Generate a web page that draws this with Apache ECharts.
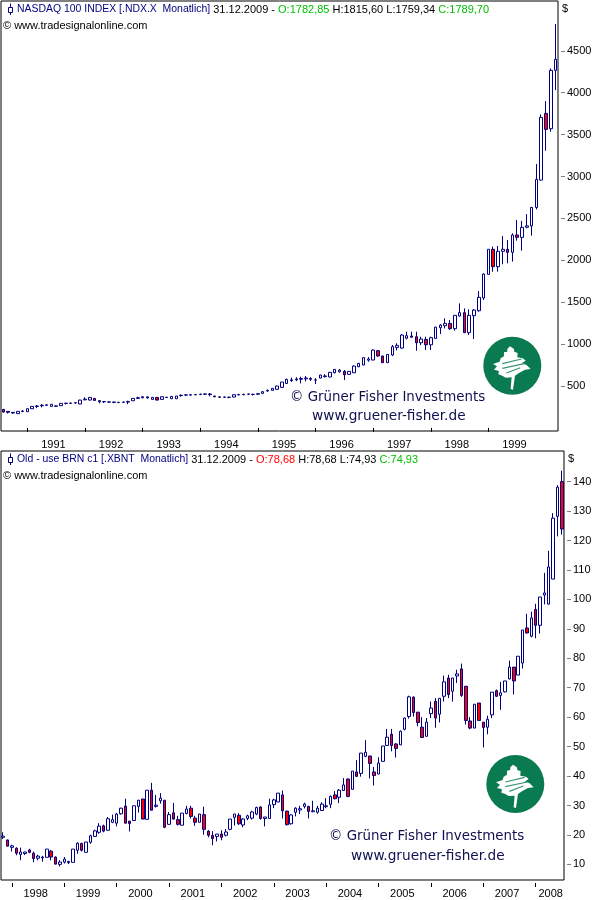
<!DOCTYPE html>
<html>

<head>
    <meta charset="utf-8">
    <title>Nasdaq 100 / Brent</title>
    <script src="https://cdn.jsdelivr.net/npm/echarts@6/dist/echarts.min.js"></script>
    <style>
        html, body { margin: 0; padding: 0; background: #fff; }
        #main { width: 600px; height: 900px; }
    </style>
</head>

<body>
    <div id='main'></div>
    <script>
        // O H L C, monatlich ab 1990-08
        var NDX = [
            [221,225,185,189],[197,198,172,186],[185,187,168,178],[170,198,168,197],[195,213,192,201],[193,230,192,229],
            [229,258,228,257],[256,273,237,261],[264,285,245,270],[270,280,262,275],[257,282,256,281],[262,270,256,258],
            [265,294,264,293],[295,298,280,292],[293,301,284,296],[297,303,290,301],[285,335,283,332],[335,365,330,344],
            [332,368,330,364],[352,355,325,328],[325,330,293,312],[312,318,298,314],[310,315,298,308],[308,312,295,305],
            [305,310,295,304],[305,312,298,308],[308,325,283,314],[324,354,322,352],[352,372,345,360],[360,378,352,372],
            [370,375,350,358],[340,366,338,364],[364,370,330,332],[340,374,338,372],[366,370,358,362],[348,378,346,376],
            [348,381,346,380],[385,398,372,390],[392,400,382,394],[392,400,386,396],[396,404,388,398],[398,408,392,403],
            [402,410,394,405],[405,416,376,398],[380,384,366,372],[370,376,358,366],[366,372,358,368],[366,370,354,364],
            [368,397,366,396],[394,406,388,398],[396,408,390,400],[402,410,392,404],[400,408,386,400],[402,412,396,408],
            [412,434,410,432],[440,458,432,448],[448,474,446,472],[460,502,458,500],[483,548,482,547],[530,587,523,579],
            [565,600,548,574],[574,605,558,584],[580,611,531,590],[585,620,555,595],[590,605,560,580],[570,595,523,572],
            [595,633,593,631],[612,640,600,620],[607,665,605,663],[658,700,650,698],[670,702,660,690],[675,690,571,635],
            [639,678,637,675],[658,745,655,738],[730,775,725,770],[750,840,748,838],[808,845,790,822],[810,937,808,929],
            [921,930,850,858],[858,860,775,778],[778,881,776,877],[870,989,858,969],[960,1010,925,985],[953,1120,945,1108],
            [1070,1148,1056,1100],[1096,1148,1080,1082],[1088,1148,921,1016],[1016,1088,988,1060],[1056,1088,929,992],[992,1088,929,1076],
            [1068,1207,1068,1203],[1195,1239,1120,1227],[1219,1307,1187,1247],[1247,1287,1168,1184],[1184,1347,1160,1343],[1335,1486,1327,1375],
            [1375,1426,1136,1136],[1136,1414,1108,1343],[1339,1418,1060,1406],[1398,1633,1386,1558],[1550,1844,1526,1836],[1832,2131,1832,2131],
            [2131,2163,1864,1924],[1924,2171,1864,2107],[2107,2290,1952,2131],[2131,2242,1964,2095],[2095,2322,1984,2302],[2302,2481,2234,2274],
            [2274,2470,2115,2393],[2395,2551,2382,2410],[2410,2638,2294,2630],[2630,3148,2607,2965],[2957,3741,2953,3705],[3753,3900,3307,3562],
            [3570,4290,3534,4266],[4266,4819,4031,4398]
        ]
        // O H L C, monatlich ab 1997-11
        var BRENT = [
            [19.2,20.9,18.6,19.6],[18.3,18.4,16.1,16.2],[15.8,16.7,14.4,16.3],[15.5,15.8,13.1,13.8],[13.4,15.7,11.4,14.2],[13.7,14.3,13.2,14.2],
            [14.9,15.3,13.8,14.1],[13.8,14.3,10.7,12.0],[12.1,13.3,11.4,12.8],[12.2,12.9,10.9,12.5],[12.4,15.2,12.3,15.2],[14.5,14.9,11.4,12.5],
            [12.5,12.7,10.0,10.1],[10.0,11.4,9.3,10.8],[10.8,12.5,10.3,11.8],[10.6,11.2,10.1,11.0],[10.7,15.2,10.7,15.2],[14.8,17.5,13.6,17.2],
            [17.1,17.4,14.4,14.8],[14.1,17.6,14.1,17.6],[17.5,20.1,17.0,19.7],[19.5,21.8,19.4,21.4],[20.9,24.0,20.4,23.0],[23.1,23.5,20.9,21.3],
            [21.6,26.1,21.5,25.5],[24.3,26.9,24.0,25.2],[24.0,27.5,22.9,27.1],[27.2,29.2,26.9,29.1],[29.8,32.3,24.0,24.0],[24.7,24.7,21.2,23.9],
            [24.9,30.0,24.8,29.9],[29.7,31.9,27.6,31.8],[32.2,32.2,25.4,25.4],[25.3,35.2,25.3,35.2],[35.2,37.7,28.4,28.4],[29.7,33.6,29.3,30.1],
            [31.6,34.2,30.6,32.5],[31.8,31.8,22.3,22.6],[23.6,27.8,23.5,26.9],[27.5,30.9,25.2,25.4],[25.2,26.5,23.2,23.6],[23.3,27.4,23.3,27.4],
            [27.3,29.9,27.0,28.8],[29.1,29.9,25.6,26.3],[25.7,26.5,23.1,24.3],[24.3,27.1,24.3,27.1],[26.9,29.6,20.1,21.9],[21.3,21.6,19.2,19.9],
            [19.8,21.3,16.5,18.8],[19.5,20.3,17.8,20.3],[20.3,21.6,18.2,19.2],[19.9,22.0,19.5,21.0],[21.9,25.4,21.6,25.4],[26.0,27.1,23.2,27.1],
            [26.7,27.4,23.4,23.8],[23.4,25.7,22.6,25.4],[25.6,26.9,25.0,26.5],[25.7,28.2,25.2,27.8],[27.1,29.6,26.7,29.3],[29.5,29.7,25.2,25.6],
            [25.6,26.1,22.9,26.1],[25.6,32.3,25.6,30.2],[30.3,32.3,29.1,31.9],[31.2,34.2,31.2,34.2],[33.6,35.1,25.6,28.2],[28.1,28.2,23.2,23.5],
            [23.8,27.0,23.5,26.8],[27.7,29.4,26.3,29.1],[28.5,29.9,27.1,28.9],[29.7,31.0,29.0,30.5],[29.7,29.9,25.6,28.0],[27.9,31.6,27.7,28.2],
            [27.7,29.9,27.2,29.1],[28.3,31.1,28.2,30.5],[29.6,32.5,29.1,29.9],[30.4,33.4,29.1,33.1],[33.6,34.9,32.1,32.3],[32.8,35.6,30.8,35.2],
            [35.1,39.3,35.0,37.0],[39.0,39.2,32.8,33.1],[35.5,41.7,35.5,41.7],[41.4,45.4,39.7,39.9],[40.9,47.8,39.8,47.8],[46.7,52.2,46.4,48.1],
            [46.8,46.9,39.2,44.3],[41.4,43.1,36.8,40.2],[40.7,46.4,40.6,44.4],[45.0,50.2,44.8,50.2],[50.4,56.0,50.3,53.2],[54.2,56.0,48.4,50.4],
            [50.9,51.2,46.3,49.4],[50.6,55.5,50.5,55.2],[55.9,59.9,55.5,59.7],[60.2,67.3,59.5,66.9],[66.8,67.1,60.2,61.6],[61.7,61.7,56.9,58.2],
            [56.6,60.0,52.9,53.1],[53.5,59.7,53.5,58.3],[61.2,65.3,59.7,63.1],[65.4,66.5,56.4,59.7],[61.0,66.4,58.2,66.4],[67.1,74.1,65.3,72.0],
            [73.3,74.4,66.5,67.7],[68.8,73.3,65.3,73.3],[74.0,76.1,71.6,74.7],[76.4,78.2,66.9,67.4],[70.5,70.5,57.5,58.9],[58.7,60.0,55.9,56.3],
            [56.3,64.4,56.3,64.4],[64.8,64.8,58.9,58.9],[58.3,58.3,49.7,56.5],[56.6,60.5,54.2,59.3],[60.8,68.5,59.7,68.5],[69.0,69.4,66.9,67.1],
            [67.4,72.0,62.5,68.3],[68.6,72.3,68.4,72.3],[73.0,79.2,72.8,77.0],[77.0,77.0,67.7,72.3],[74.3,80.7,74.3,80.7],[78.4,89.6,76.5,89.6],
            [90.3,95.1,88.4,88.6],[87.5,95.8,87.1,93.7],[96.6,98.5,86.8,91.2],[91.2,100.8,88.4,100.8],[101.5,109.0,98.3,102.2],[98.4,116.5,98.3,111.0],
            [106.9,129.3,106.9,127.6],[128.2,138.8,121.4,138.1],[140.0,143.7,122.0,123.9]
        ]

        var FONT = '"Liberation Sans", sans-serif'
        var NAVY = '#000080'

        function Months(year, month, count) {
            var res = []
            for (var i = 0; i < count; i++) {
                var m = month - 1 + i
                res.push(`${year + Math.floor(m / 12)}-${String(m % 12 + 1).padStart(2, '0')}`)
            }
            return res
        }
        function Range(start, end, step) {
            var res = []
            for (var v = start; v <= end; v += step) res.push(v)
            return res
        }
        function ToCandle(rows) {
            // echarts will [open, close, low, high]
            return rows.map(r => [r[0], r[3], r[2], r[1]])
        }
        function Header(top, name, quote) {
            return {
                left: 17, top: top, padding: 0,
                text: `{n|${name}}{k| 31.12.2009 - }${quote}`,
                textStyle: {
                    fontFamily: FONT, fontSize: 11, fontWeight: 'normal',
                    rich: {
                        n: { color: NAVY, fontFamily: FONT, fontSize: 10.45 },
                        k: { color: '#000', fontFamily: FONT, fontSize: 11 },
                        g: { color: '#00c000', fontFamily: FONT, fontSize: 11 },
                        r: { color: '#ff0000', fontFamily: FONT, fontSize: 11 },
                    }
                }
            }
        }
        function Txt(x, y, text, size, color, font) {
            return {
                type: 'text', x: x, y: y, silent: true,
                style: { text: text, fontFamily: font || FONT, fontSize: size, fill: color, textVerticalAlign: 'middle' }
            }
        }
        function Glyph(y) {
            return [
                { type: 'line', shape: { x1: 10.5, y1: y + 3.5, x2: 10.5, y2: y + 15 }, style: { stroke: NAVY, lineWidth: 1 } },
                { type: 'rect', shape: { x: 8.5, y: y + 7.5, width: 4, height: 5 }, style: { fill: '#fff', stroke: NAVY, lineWidth: 1 } },
            ]
        }
        function Logo(cx, cy) {
            var tree = [[-7, -58], [5, -50], [6, -42], [16, -38], [15, -25], [32, -22], [40, -15], [28, -7], [42, -3], [55, 10], [38, 12], [20, 22], [8, 30], [2, 72], [-5, 70], [-2, 35], [-20, 36], [-30, 30], [-42, 26], [-40, 16], [-55, 12], [-46, 2], [-58, -5], [-38, -12], [-35, -22], [-25, -28], [-25, -40], [-15, -42], [-15, -50]]
            var streaks = [[[-30, -6], [28, -20]], [[-30, 8], [36, -6]], [[-18, 22], [24, 6]]]
            var res = [
                { type: 'circle', shape: { cx: cx, cy: cy, r: 29 }, style: { fill: '#0a7a50' } },
                { type: 'polygon', shape: { points: tree.map(p => [cx + p[0] / 3, cy + p[1] / 3]) }, style: { fill: '#fff' } },
            ]
            streaks.forEach(s => res.push({
                type: 'polyline',
                shape: { points: s.map(p => [cx + p[0] / 3, cy + p[1] / 3]) },
                style: { stroke: '#3a9672', lineWidth: 1.2, fill: null }
            }))
            return res
        }
        function XAxis(idx, cats, years, extra, margin) {
            var year = i => +cats[i].slice(0, 4)
            var month = i => cats[i].slice(5)
            return {
                type: 'category', gridIndex: idx, data: cats, offset: 3,
                axisLine: { show: false },
                axisTick: {
                    show: true, alignWithLabel: true, length: 4,
                    lineStyle: { color: '#000', width: 1 },
                    interval: i => month(i) == '01' && year(i) >= years[0] && year(i) <= years[1]
                },
                axisLabel: {
                    color: '#000', fontFamily: FONT, fontSize: 11, margin: margin, padding: [0, 0, 0, 4], hideOverlap: false,
                    interval: i => cats[i] == extra || (month(i) == '06' && year(i) >= years[0] && year(i) <= years[1] && cats[i].slice(0, 4) != (extra || '').slice(0, 4)),
                    formatter: v => v.slice(0, 4)
                },
                splitLine: { show: false }
            }
        }
        function YAxis(idx, min, max, ticks) {
            return {
                type: 'value', gridIndex: idx, position: 'right', min: min, max: max, offset: 3,
                axisLine: { show: false },
                axisTick: { show: true, length: 4, customValues: ticks, lineStyle: { color: '#808080' } },
                axisLabel: { color: '#000', fontFamily: FONT, fontSize: 11, margin: 6, customValues: ticks, formatter: v => String(v) },
                splitLine: { show: false }
            }
        }
        function Candles(idx, rows, width) {
            return {
                type: 'candlestick', xAxisIndex: idx, yAxisIndex: idx, data: ToCandle(rows), barWidth: width,
                itemStyle: { color: '#fff', color0: '#ff0000', borderColor: NAVY, borderColor0: NAVY, borderWidth: 1 }
            }
        }

        var myChart = echarts.init(document.getElementById('main'), null, { renderer: 'canvas' })
        var graphics = []
            .concat(Glyph(0), Glyph(450))
            .concat(Logo(512.3, 365.7), Logo(515.3, 784))
            .concat([
                Txt(3, 26, '© www.tradesignalonline.com', 11, '#000'),
                Txt(3, 476, '© www.tradesignalonline.com', 11, '#000'),
                Txt(562, 9, '$', 11, '#000'),
                Txt(568, 459, '$', 11, '#000'),
                Txt(290, 398, '© Grüner Fisher Investments', 13.4, '#101050', 'DejaVu Sans'),
                Txt(312, 416, 'www.gruener-fisher.de', 13.7, '#101050', 'DejaVu Sans'),
                Txt(329, 837, '© Grüner Fisher Investments', 13.4, '#101050', 'DejaVu Sans'),
                Txt(351, 856, 'www.gruener-fisher.de', 13.7, '#101050', 'DejaVu Sans'),
            ])

        myChart.setOption({
            animation: false,
            backgroundColor: '#fff',
            title: [
                Header(4, 'NASDAQ 100 INDEX [.NDX.X  Monatlich]', '{g|O:1782,85}{k| H:1815,60 L:1759,34 }{g|C:1789,70}'),
                Header(454, 'Old - use BRN c1 [.XBNT  Monatlich]', '{r|O:78,68}{k| H:78,68 L:74,93 }{g|C:74,93}'),
            ],
            grid: [
                { left: 1, top: 1, width: 557, height: 430, show: true, borderColor: '#000', borderWidth: 1, backgroundColor: '#fff' },
                { left: 1, top: 451, width: 563, height: 429, show: true, borderColor: '#000', borderWidth: 1, backgroundColor: '#fff' },
            ],
            xAxis: [
                XAxis(0, Months(1990, 8, NDX.length), [1991, 1999], '', 5),
                XAxis(1, Months(1997, 11, BRENT.length), [1998, 2008], '2008-04', 5),
            ],
            yAxis: [
                YAxis(0, -37, 5094, Range(500, 4500, 500)),
                YAxis(1, 4.7, 150.4, Range(10, 140, 10)),
            ],
            series: [Candles(0, NDX, 3), Candles(1, BRENT, 3)],
            graphic: graphics
        })
    </script>
</body>

</html>
